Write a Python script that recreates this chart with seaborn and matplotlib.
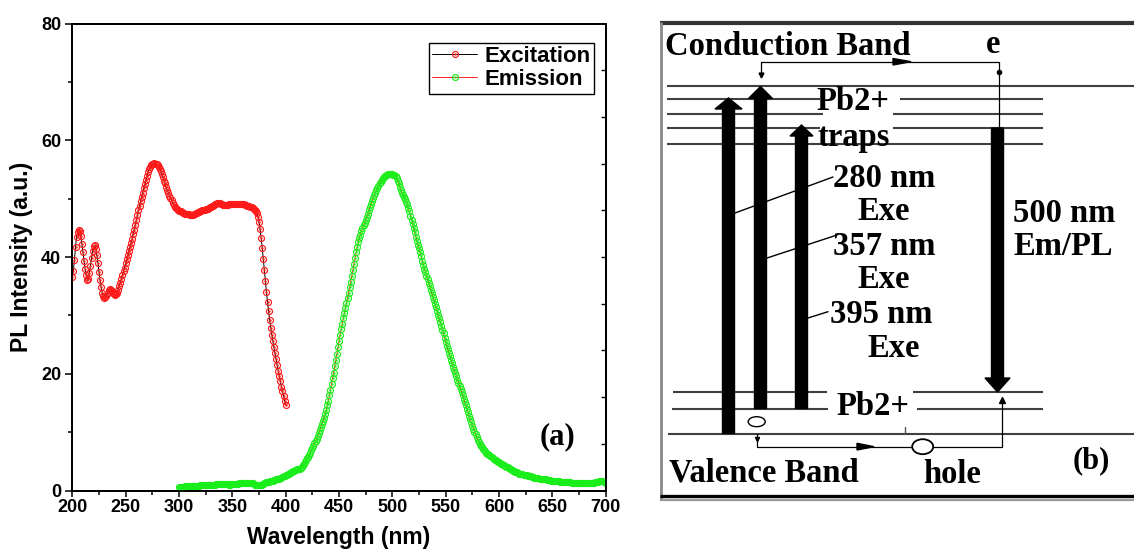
import numpy as np
import matplotlib
matplotlib.use("Agg")
import matplotlib.pyplot as plt
import matplotlib.path as mpath
from matplotlib.patches import FancyArrow, Ellipse, Polygon
from matplotlib.ticker import MultipleLocator
import seaborn as sns

# ---------------- data (panel a) ----------------
wl_ex = list(range(200, 401))          # nm, 1 nm step
pl_ex = [
    36.5, 37.6, 39.5, 41.7, 43.5, 44.3, 44.7, 44.5, 43.6, 42.2,
    40.8, 39.3, 38.0, 36.9, 36.1, 36.3, 37.3, 38.5, 39.8, 41.0,
    41.8, 42.0, 41.4, 40.3, 39.0, 37.5, 36.0, 34.8, 33.9, 33.3,
    33.0, 33.1, 33.4, 33.9, 34.3, 34.5, 34.4, 34.1, 33.8, 33.6,
    33.5, 33.6, 33.9, 34.4, 35.0, 35.6, 36.2, 36.9, 37.6, 38.2,
    38.9, 39.6, 40.3, 41.0, 41.7, 42.4, 43.1, 43.9, 44.7, 45.5,
    46.3, 47.2, 48.0, 48.8, 49.6, 50.3, 51.0, 51.8, 52.5, 53.2,
    53.9, 54.5, 55.0, 55.4, 55.7, 55.9, 56.0, 56.1, 56.0, 55.9,
    55.7, 55.4, 55.1, 54.7, 54.2, 53.7, 53.1, 52.6, 52.0, 51.5,
    51.0, 50.5, 50.1, 49.7, 49.3, 48.9, 48.6, 48.4, 48.2, 48.0,
    47.9, 47.8, 47.8, 47.7, 47.6, 47.5, 47.4, 47.4, 47.3, 47.3,
    47.2, 47.2, 47.2, 47.2, 47.3, 47.4, 47.5, 47.6, 47.7, 47.7,
    47.8, 47.9, 48.0, 48.0, 48.1, 48.2, 48.2, 48.3, 48.4, 48.5,
    48.6, 48.7, 48.8, 48.9, 49.0, 49.1, 49.2, 49.2, 49.2, 49.1,
    49.0, 48.9, 48.9, 48.9, 48.9, 48.9, 48.9, 49.0, 49.0, 49.0,
    49.1, 49.1, 49.1, 49.1, 49.1, 49.1, 49.1, 49.1, 49.1, 49.0,
    49.0, 49.0, 48.9, 48.9, 48.8, 48.8, 48.7, 48.6, 48.5, 48.4,
    48.2, 48.0, 47.8, 47.5, 46.9, 46.0, 44.8, 43.3, 41.6, 39.7,
    37.8, 35.9, 34.0, 32.3, 30.7, 29.2, 27.9, 26.7, 25.6, 24.5,
    23.5, 22.5, 21.5, 20.5, 19.6, 18.7, 17.8, 17.0, 16.2, 15.4,
    14.6,
]

wl_em = list(range(300, 701))          # nm, 1 nm step
pl_em = [
    0.6, 0.6, 0.5, 0.6, 0.6, 0.6, 0.7, 0.7, 0.7, 0.7,
    0.8, 0.8, 0.8, 0.8, 0.8, 0.8, 0.8, 0.8, 0.8, 0.8,
    0.9, 0.9, 0.9, 0.9, 0.9, 1.0, 1.0, 1.0, 1.0, 1.0,
    1.0, 1.0, 1.0, 1.0, 1.0, 1.1, 1.1, 1.1, 1.1, 1.1,
    1.1, 1.1, 1.1, 1.1, 1.1, 1.1, 1.1, 1.0, 1.0, 1.1,
    1.1, 1.1, 1.1, 1.1, 1.1, 1.1, 1.2, 1.2, 1.2, 1.2,
    1.2, 1.2, 1.2, 1.3, 1.3, 1.3, 1.3, 1.3, 1.2, 1.2,
    1.1, 1.0, 1.0, 0.9, 0.9, 0.9, 0.9, 1.0, 1.0, 1.1,
    1.2, 1.3, 1.4, 1.5, 1.5, 1.6, 1.6, 1.7, 1.7, 1.8,
    1.8, 1.9, 1.9, 2.0, 2.0, 2.1, 2.2, 2.3, 2.4, 2.5,
    2.6, 2.7, 2.8, 2.9, 3.0, 3.1, 3.2, 3.3, 3.4, 3.5,
    3.5, 3.6, 3.6, 3.7, 3.9, 4.1, 4.3, 4.6, 4.9, 5.2,
    5.5, 5.8, 6.1, 6.5, 6.9, 7.3, 7.7, 8.1, 8.5, 8.9,
    9.4, 9.9, 10.4, 10.9, 11.4, 11.9, 12.5, 13.1, 13.8, 14.6,
    15.4, 16.3, 17.2, 18.2, 19.2, 20.2, 21.3, 22.3, 23.4, 24.5,
    25.6, 26.6, 27.6, 28.6, 29.5, 30.4, 31.3, 32.2, 33.0, 33.9,
    34.8, 35.8, 36.8, 37.8, 38.8, 39.8, 40.8, 41.7, 42.5, 43.2,
    43.8, 44.4, 44.9, 45.4, 45.9, 46.4, 46.9, 47.4, 48.0, 48.5,
    49.1, 49.6, 50.1, 50.6, 51.0, 51.4, 51.8, 52.2, 52.6, 52.9,
    53.2, 53.5, 53.7, 53.9, 54.0, 54.1, 54.2, 54.3, 54.3, 54.3,
    54.2, 54.1, 54.0, 53.8, 53.6, 53.1, 52.6, 52.0, 51.5, 51.0,
    50.6, 50.2, 49.9, 49.5, 49.0, 48.4, 47.8, 47.1, 46.4, 45.7,
    45.0, 44.2, 43.5, 42.8, 42.1, 41.5, 40.8, 40.1, 39.4, 38.7,
    38.0, 37.4, 36.8, 36.2, 35.6, 35.0, 34.4, 33.8, 33.2, 32.6,
    32.0, 31.4, 30.8, 30.1, 29.5, 28.8, 28.2, 27.5, 26.9, 26.2,
    25.5, 24.8, 24.2, 23.6, 23.0, 22.4, 21.8, 21.2, 20.7, 20.1,
    19.6, 19.0, 18.5, 17.9, 17.4, 16.8, 16.3, 15.7, 15.1, 14.6,
    14.0, 13.4, 12.8, 12.2, 11.7, 11.1, 10.6, 10.1, 9.6, 9.1,
    8.7, 8.3, 8.0, 7.7, 7.4, 7.1, 6.9, 6.7, 6.5, 6.3,
    6.2, 6.0, 5.9, 5.7, 5.6, 5.4, 5.3, 5.2, 5.0, 4.9,
    4.8, 4.7, 4.6, 4.5, 4.4, 4.3, 4.2, 4.1, 4.0, 3.9,
    3.7, 3.6, 3.5, 3.4, 3.3, 3.2, 3.1, 3.1, 3.0, 2.9,
    2.9, 2.8, 2.8, 2.7, 2.7, 2.6, 2.6, 2.5, 2.5, 2.4,
    2.4, 2.3, 2.3, 2.2, 2.2, 2.1, 2.1, 2.1, 2.0, 2.0,
    2.0, 1.9, 1.9, 1.9, 1.9, 1.8, 1.8, 1.8, 1.8, 1.7,
    1.7, 1.7, 1.7, 1.6, 1.6, 1.6, 1.6, 1.5, 1.5, 1.5,
    1.5, 1.5, 1.4, 1.4, 1.4, 1.4, 1.4, 1.4, 1.3, 1.3,
    1.3, 1.3, 1.3, 1.3, 1.2, 1.2, 1.2, 1.2, 1.2, 1.2,
    1.2, 1.2, 1.2, 1.2, 1.2, 1.2, 1.3, 1.3, 1.3, 1.3,
    1.4, 1.4, 1.5, 1.5, 1.6, 1.6, 1.6, 1.6, 1.5, 1.4,
    1.3,
]

series_labels = ["Excitation", "Emission"]
x_ticks = [200, 250, 300, 350, 400, 450, 500, 550, 600, 650, 700]
y_ticks = [0, 20, 40, 60, 80]
x_label = "Wavelength (nm)"
y_label = "PL Intensity (a.u.)"
panel_a_tag = "(a)"

# ---------------- text of panel b ----------------
diagram_texts = {
    "cb": "Conduction Band", "e": "e", "pb_top": "Pb2+", "traps": "traps",
    "n280": "280 nm", "exe1": "Exe", "n357": "357 nm", "exe2": "Exe",
    "n395": "395 nm", "exe3": "Exe", "pb_bot": "Pb2+", "n500": "500 nm",
    "empl": "Em/PL", "vb": "Valence Band", "hole": "hole", "tag": "(b)",
}

# ---------------- style ----------------
sns.set_theme(style="ticks")
plt.rcParams["font.family"] = ["Liberation Sans", "DejaVu Sans"]
plt.rcParams["font.weight"] = "bold"
for key in ["text.color", "axes.labelcolor", "xtick.color", "ytick.color",
            "axes.edgecolor"]:
    plt.rcParams[key] = "black"
SERIF = ["Liberation Serif", "DejaVu Serif"]

W, H = 1134, 558
fig = plt.figure(figsize=(W / 100, H / 100), dpi=100)
fig.patch.set_facecolor("white")

# ---------------- panel a ----------------
ax = fig.add_axes([72.3 / W, 1 - 490.5 / H, 533.4 / W, 467 / H])
ax.set_facecolor("white")

ring = mpath.Path.make_compound_path(mpath.Path.unit_circle(),
                                     mpath.Path.circle((0, 0), 0.2))

sns.lineplot(x=wl_ex, y=pl_ex, ax=ax, color="black", lw=0.7,
             marker=ring, markersize=4.3, markerfacecolor="none",
             markeredgecolor="#ff1a1a", markeredgewidth=0.85,
             label=series_labels[0], zorder=3)
sns.lineplot(x=wl_em, y=pl_em, ax=ax, color="red", lw=0.6,
             marker=ring, markersize=4.3, markerfacecolor="none",
             markeredgecolor="#1aee1a", markeredgewidth=0.85,
             label=series_labels[1], zorder=3)

ax.set_xlim(200, 700)
ax.set_ylim(0, 80)
ax.set_xticks(x_ticks)
ax.set_yticks(y_ticks)
ax.xaxis.set_minor_locator(MultipleLocator(25))
ax.yaxis.set_minor_locator(MultipleLocator(10))
ax.tick_params(axis="both", which="major", direction="out", width=1.1,
               color="black", labelcolor="black", labelsize=13, pad=2)
ax.tick_params(axis="y", which="major", length=5)
ax.tick_params(axis="x", which="major", length=4)
ax.tick_params(axis="both", which="minor", direction="out", width=1.1,
               length=3.2, color="black")
ax.tick_params(axis="y", which="major", pad=3)
for lab in ax.get_xticklabels() + ax.get_yticklabels():
    lab.set_fontweight("bold")
for sp in ax.spines.values():
    sp.set_linewidth(1.4)
    sp.set_color("black")
    sp.set_visible(True)

ax.set_xlabel(x_label, fontsize=16.5, fontweight="bold", labelpad=7,
              color="black")
ax.set_ylabel(y_label, fontsize=16.5, fontweight="bold", labelpad=6,
              color="black")

# inward ticks on the right edge (secondary scale of the original)
axr = ax.twinx()
axr.set_ylim(0, 80)
axr.set_yticks(list(range(8, 80, 8)))
axr.tick_params(axis="y", direction="in", length=3.5, width=1.0,
                labelright=False, color="black")
axr.grid(False)

leg = ax.legend(loc="upper right", bbox_to_anchor=(0.978, 0.959),
                borderaxespad=0, frameon=True, fancybox=False,
                prop={"weight": "bold", "size": 16},
                handlelength=2.0, handletextpad=0.35, borderpad=0.15,
                labelspacing=0.1, numpoints=1)
leg.get_frame().set_edgecolor("black")
leg.get_frame().set_linewidth(1.0)
leg.get_frame().set_alpha(1)
for t in leg.get_texts():
    t.set_color("black")

ax.text(0.909, 0.115, panel_a_tag, transform=ax.transAxes, ha="center",
        va="center", fontsize=22, fontweight="bold", family=SERIF,
        color="black")

# ---------------- panel b (schematic) ----------------
bx = fig.add_axes([640 / W, 0, 494 / W, 1])
bx.set_xlim(640, 1134)
bx.set_ylim(558, 0)
bx.axis("off")

# frame
bx.plot([660, 1134], [23, 23], color="#333333", lw=3.0, solid_capstyle="butt")
bx.plot([661, 661], [22, 500], color="#8a8a8a", lw=2.0, solid_capstyle="butt")
bx.plot([660, 1134], [495.8, 495.8], color="black", lw=2.4, solid_capstyle="butt")
bx.plot([660, 1134], [500.3, 500.3], color="#999999", lw=1.6, solid_capstyle="butt")

lvl = dict(color="#404040", lw=1.5, solid_capstyle="butt", zorder=1)
# upper levels
bx.plot([667, 1134], [86, 86], **lvl)
bx.plot([667, 820], [98.5, 98.5], **lvl)
bx.plot([900, 1043], [98.5, 98.5], **lvl)
bx.plot([667, 823], [114, 114], **lvl)
bx.plot([893, 1043], [114, 114], **lvl)
bx.plot([667, 820], [127.5, 127.5], **lvl)
bx.plot([893, 1043], [127.5, 127.5], **lvl)
bx.plot([667, 1043], [144, 144], **lvl)
# lower levels
bx.plot([673, 827], [392, 392], **lvl)
bx.plot([913, 1043], [392, 392], **lvl)
bx.plot([672, 828], [408.5, 408.5], **lvl)
bx.plot([917, 1043], [408.5, 408.5], **lvl)
bx.plot([668, 1134], [433.5, 433.5], **lvl)
bx.plot([905, 905], [427, 433.5], color="#505050", lw=1.0)

# leader lines
thin = dict(color="black", lw=1.0, zorder=2)
bx.plot([735, 833], [213, 177], **thin)
bx.plot([767, 837], [258, 235], **thin)
bx.plot([808, 828], [318, 311.7], **thin)

# thick excitation / emission arrows
for xa, y0, y1, hw, hl in [(728.5, 433.5, 98, 27, 11),
                           (760.5, 408.5, 86.5, 24, 12),
                           (801.5, 408.5, 125, 23, 11),
                           (997.5, 128, 392, 25, 14)]:
    bx.add_patch(FancyArrow(xa, y0, 0, y1 - y0, width=12, head_width=hw,
                            head_length=hl, length_includes_head=True,
                            color="black", zorder=4))

# electron path (top)
bx.plot([760.7, 760.7, 999.3, 999.3], [77, 61.7, 61.7, 128], color="black",
        lw=0.9, zorder=3)
bx.add_patch(Polygon([(893, 58.5), (911, 61.7), (893, 65)], closed=True,
                     color="black", zorder=3))
bx.plot([760.7], [75], marker="v", ms=3.5, color="black", zorder=3)
bx.plot([999.3], [72], marker="o", ms=3.0, color="black", zorder=3)

# hole path (bottom)
bx.plot([756.7, 756.7, 1001.7, 1001.7], [433.5, 446.7, 446.7, 398],
        color="black", lw=0.9, zorder=3)
bx.add_patch(Polygon([(857, 443.3), (874, 446.7), (857, 450)], closed=True,
                     color="black", zorder=3))
bx.plot([1001.7], [400], marker="^", ms=4.0, color="black", zorder=3)
bx.plot([756.7], [438.5], marker="v", ms=3.0, color="black", zorder=3)
bx.add_patch(Ellipse((756.7, 421.7), 17, 10, facecolor="white",
                     edgecolor="black", lw=1.0, zorder=5))
bx.add_patch(Ellipse((922.7, 446.7), 21, 15, facecolor="white",
                     edgecolor="black", lw=1.3, zorder=5))

tk = dict(family=SERIF, fontweight="bold", fontsize=23.5, color="black",
          va="baseline", ha="left", zorder=6)
bx.text(665, 55, diagram_texts["cb"], **tk)
bx.text(986, 53, diagram_texts["e"], **tk)
bx.text(816, 110, diagram_texts["pb_top"], **tk)
bx.text(817, 146, diagram_texts["traps"], **tk)
bx.text(833, 187, diagram_texts["n280"], **tk)
bx.text(858, 220, diagram_texts["exe1"], **tk)
bx.text(833, 255, diagram_texts["n357"], **tk)
bx.text(858, 288, diagram_texts["exe2"], **tk)
bx.text(830, 323, diagram_texts["n395"], **tk)
bx.text(867, 357, diagram_texts["exe3"], **tk)
bx.text(836, 415, diagram_texts["pb_bot"], **tk)
bx.text(1013, 222, diagram_texts["n500"], **tk)
bx.text(1013, 255, diagram_texts["empl"], **tk)
bx.text(669, 482, diagram_texts["vb"], **tk)
bx.text(923, 483, diagram_texts["hole"], **tk)
bx.text(1091, 461, diagram_texts["tag"], family=SERIF, fontweight="bold",
        fontsize=22, ha="center", va="center", zorder=6, color="black")

fig.savefig("out.png", dpi=100, facecolor="white")
